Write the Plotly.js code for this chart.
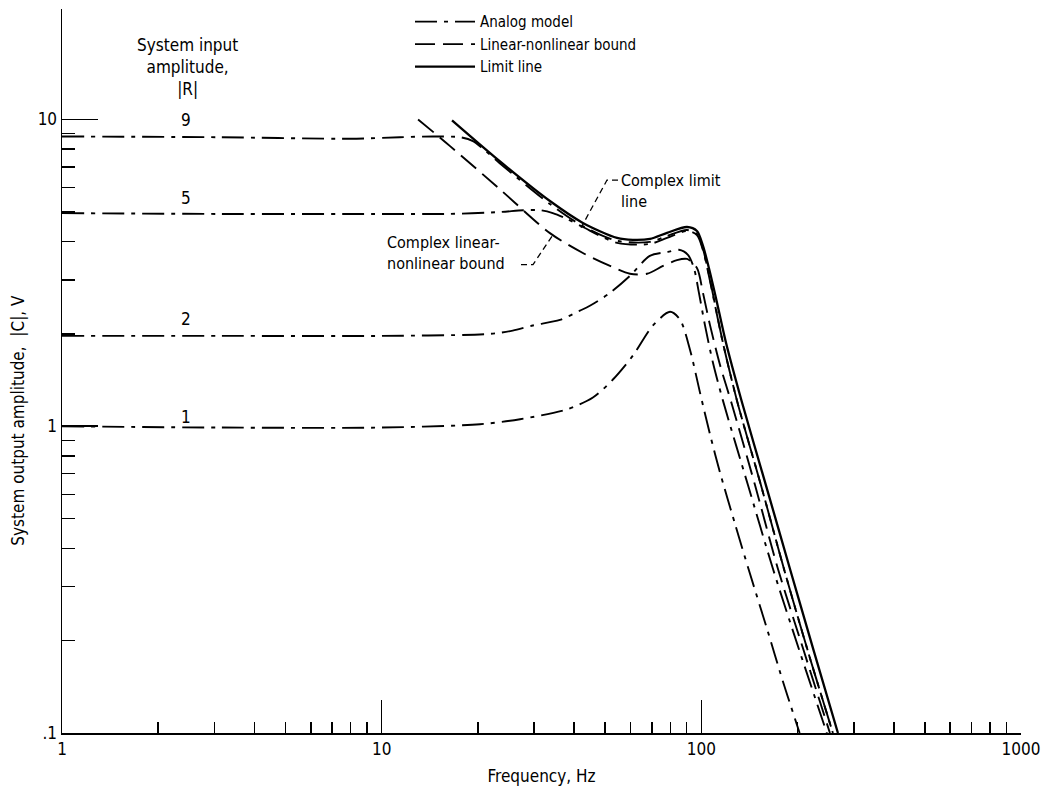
<!DOCTYPE html>
<html>
<head>
<meta charset="utf-8">
<script src="https://cdn.plot.ly/plotly-3.0.1.min.js"></script>
<style>html,body{margin:0;padding:0;background:#fff;}#chart{width:1043px;height:791px;}</style>
</head>
<body>
<div id="chart"></div>
<script>
// ---- Data ----
// Analog model, system input amplitude |R| = 9
const r9Freq = [1, 3.12, 7.96, 11.4, 14.5, 17.6, 19.3, 20.7, 23.4, 33.6, 42.6, 54.5, 69.1, 78.1, 90.2, 96.9, 101.2, 104.9, 109.5, 116.8, 129.2, 153.6, 181.3, 215.5, 258];
const r9Amp  = [8.8, 8.75, 8.65, 8.75, 8.8, 8.75, 8.5, 8.05, 7.2, 5.3, 4.49, 4.02, 3.99, 4.17, 4.36, 4.23, 3.78, 3.23, 2.60, 1.874, 1.214, 0.643, 0.343, 0.1846, 0.1];
// Analog model, |R| = 5
const r5Freq = [1, 3.12, 10, 16.3, 23.4, 27.7, 31.3, 34.3, 38.0, 42.6, 54.5, 69.1, 78.1, 90.2, 96.9, 101.2, 104.9, 109.5, 116.8, 129.2, 153.6, 181.3, 215.5, 258];
const r5Amp  = [4.95, 4.92, 4.92, 4.92, 4.99, 5.06, 5.06, 4.95, 4.74, 4.46, 3.96, 3.93, 4.11, 4.33, 4.2, 3.75, 3.2, 2.58, 1.87, 1.214, 0.643, 0.343, 0.1846, 0.1];
// Analog model, |R| = 2
const r2Freq = [1, 3.12, 10, 21.8, 25.7, 29.7, 36.1, 41.7, 44.8, 51.8, 59.8, 69.0, 78.6, 85.1, 90.8, 94.8, 98.3, 102.6, 108.7, 116.8, 139.9, 167.5, 203, 247];
const r2Amp  = [1.97, 1.97, 1.97, 2.0, 2.05, 2.13, 2.22, 2.38, 2.47, 2.72, 3.09, 3.59, 3.70, 3.76, 3.62, 3.28, 2.72, 2.14, 1.613, 1.214, 0.643, 0.343, 0.1846, 0.1];
// Analog model, |R| = 1
const r1Freq = [1, 3.1, 10, 20.3, 27.1, 38, 45.8, 52.9, 61.1, 70.6, 79.8, 85.7, 92.1, 99, 106.4, 114.3, 127.4, 141.9, 160.4, 179.9, 203];
const r1Amp  = [1.0, 0.99, 0.99, 1.015, 1.054, 1.135, 1.24, 1.42, 1.70, 2.13, 2.36, 2.23, 1.78, 1.289, 0.942, 0.709, 0.481, 0.331, 0.219, 0.1475, 0.1];
// Linear-nonlinear bound (complex)
const boundFreq = [13.0, 16.4, 23.4, 33.6, 42.6, 51.8, 59.8, 67.6, 75.9, 83.9, 90.2, 96.9, 101.2, 106.4, 114.3, 124.6, 147.2, 173.6, 209.4, 252.5];
const boundAmp  = [10.0, 8.17, 5.93, 4.26, 3.67, 3.33, 3.14, 3.14, 3.33, 3.48, 3.51, 3.28, 2.72, 2.14, 1.589, 1.179, 0.643, 0.343, 0.1846, 0.1];
// Limit line (complex)
const limitFreq = [16.6, 23.4, 33.6, 42.6, 54.5, 61.1, 69.1, 78.1, 90.2, 96.9, 101.2, 105.6, 111.1, 119.4, 134, 159.2, 189.3, 225, 267.5];
const limitAmp  = [9.93, 7.31, 5.42, 4.60, 4.11, 4.05, 4.08, 4.27, 4.46, 4.33, 3.87, 3.28, 2.62, 1.874, 1.197, 0.643, 0.343, 0.1846, 0.1];

// Axis ticks
const xMajor = [1, 10, 100, 1000];
const xMajorText = ['1', '10', '100', '1000'];
const xMinorAll = [2,3,4,5,6,7,8,9,20,30,40,50,60,70,80,90,200,300,400,500,600,700,800,900];
const xMinorLong = [2,4,6,8,20,40,60,80,200,400,600,800];
const yMajor = [0.1, 1, 10];
const yMajorText = ['.1', '1', '10'];
const yMinorAll = [0.2,0.3,0.4,0.5,0.6,0.7,0.8,0.9,2,3,4,5,6,7,8,9];
const yMinorLong = [0.2,0.4,0.6,0.8,2,4,6,8];

// Curve labels (system input amplitude |R|)
const curveLabels = ['9', '5', '2', '1'];
const curveLabelY = [9.93, 5.54, 2.24, 1.07];

const FONT = '"DejaVu Sans Condensed", "Liberation Sans Narrow", "Arial Narrow", sans-serif';
const dashDot = '22px,7px,4px,7px';
const dashLong = '20px,8px';

function analog(f, a, show) {
  return {x: f, y: a, type: 'scatter', mode: 'lines', name: 'Analog model', showlegend: show,
    line: {color: '#000', width: 1.9, dash: dashDot, shape: 'spline', smoothing: 0.8}, hoverinfo: 'skip', legendrank: 1};
}
const traces = [
  analog(r9Freq, r9Amp, true),
  analog(r5Freq, r5Amp, false),
  analog(r2Freq, r2Amp, false),
  analog(r1Freq, r1Amp, false),
  {x: boundFreq, y: boundAmp, type: 'scatter', mode: 'lines', name: 'Linear-nonlinear bound', legendrank: 2,
    line: {color: '#000', width: 1.9, dash: dashLong, shape: 'spline', smoothing: 0.8}, hoverinfo: 'skip'},
  {x: limitFreq, y: limitAmp, type: 'scatter', mode: 'lines', name: 'Limit line', legendrank: 3,
    line: {color: '#000', width: 2.3, shape: 'spline', smoothing: 0.8}, hoverinfo: 'skip'}
];

// paper-coordinate helpers from pixel positions in a 1043x791 figure
const L = 62, R = 1021, T = 5, B = 733;
const px = v => (v - L) / (R - L);
const py = v => (B - v) / (B - T);

const annotations = [
  {xref: 'paper', yref: 'paper', x: px(187), y: py(63), xanchor: 'center', yanchor: 'middle',
   text: 'System input<br>amplitude,<br>|R|', showarrow: false, font: {size: 17}, align: 'center'},
  {xref: 'paper', yref: 'paper', x: px(18), y: py(419), xanchor: 'center', yanchor: 'middle',
   text: 'System output amplitude,&nbsp; |C|, V', textangle: -90, showarrow: false, font: {size: 17}},
  {xref: 'paper', yref: 'paper', x: px(619), y: py(188), xanchor: 'left', yanchor: 'middle',
   text: 'Complex limit<br>line', showarrow: false, font: {size: 16}, align: 'left'},
  {xref: 'paper', yref: 'paper', x: px(385), y: py(250), xanchor: 'left', yanchor: 'middle',
   text: 'Complex linear-<br>nonlinear bound', showarrow: false, font: {size: 16}, align: 'left'}
];
curveLabels.forEach((t, i) => {
  annotations.push({x: Math.log10(2.45), y: Math.log10(curveLabelY[i]), xref: 'x', yref: 'y', text: t,
    showarrow: false, xanchor: 'center', yanchor: 'middle', font: {size: 17}});
});

const shapes = [
  {type: 'path', xref: 'paper', yref: 'paper',
   path: `M ${px(618)} ${py(177)} L ${px(607)} ${py(177)} L ${px(581)} ${py(225)}`,
   line: {color: '#000', width: 1.3, dash: '6px,4px'}},
  {type: 'path', xref: 'paper', yref: 'paper',
   path: `M ${px(521)} ${py(262)} L ${px(533)} ${py(262)} L ${px(553)} ${py(232)}`,
   line: {color: '#000', width: 1.3, dash: '6px,4px'}}
];

const axisCommon = {color: '#000', showgrid: false, zeroline: false, ticks: 'inside', tickcolor: '#000', tickwidth: 1.5};

const layout = {
  width: 1043, height: 791,
  margin: {l: L, r: 1043 - R, t: T, b: 791 - B, pad: 0},
  paper_bgcolor: '#fff', plot_bgcolor: '#fff',
  font: {family: FONT, color: '#000', size: 17},
  showlegend: true,
  legend: {x: px(410), y: 1.005, xanchor: 'left', yanchor: 'top', bgcolor: 'rgba(0,0,0,0)', font: {size: 15},
           tracegroupgap: 0, itemwidth: 60},
  xaxis: Object.assign({}, axisCommon, {
    type: 'log', range: [0, 3], showline: true, linecolor: '#000', linewidth: 1.5,
    tickmode: 'array', tickvals: xMajor, ticktext: xMajorText, ticklen: 33,
    minor: {tickmode: 'array', tickvals: xMinorAll, ticks: 'inside', ticklen: 11, tickcolor: '#000', tickwidth: 1.5},
    title: {text: 'Frequency, Hz', font: {size: 17}, standoff: 12}
  }),
  xaxis2: Object.assign({}, axisCommon, {
    type: 'log', range: [0, 3], overlaying: 'x', anchor: 'y', side: 'bottom', showline: false,
    tickmode: 'array', tickvals: xMinorLong, ticklen: 22, showticklabels: false
  }),
  yaxis: Object.assign({}, axisCommon, {
    type: 'log', range: [-1, 1.36], showline: true, linecolor: '#000', linewidth: 1.5,
    tickmode: 'array', tickvals: yMajor, ticktext: yMajorText, ticklen: 36,
    minor: {tickmode: 'array', tickvals: yMinorAll, ticks: 'inside', ticklen: 13, tickcolor: '#000', tickwidth: 1.5}
  }),
  yaxis2: Object.assign({}, axisCommon, {
    type: 'log', range: [-1, 1.36], overlaying: 'y', anchor: 'x', side: 'left', showline: false,
    tickmode: 'array', tickvals: yMinorLong, ticklen: 25, showticklabels: false
  }),
  annotations: annotations,
  shapes: shapes
};

Plotly.newPlot('chart', traces, layout, {displayModeBar: false, staticPlot: true});
</script>
</body>
</html>
